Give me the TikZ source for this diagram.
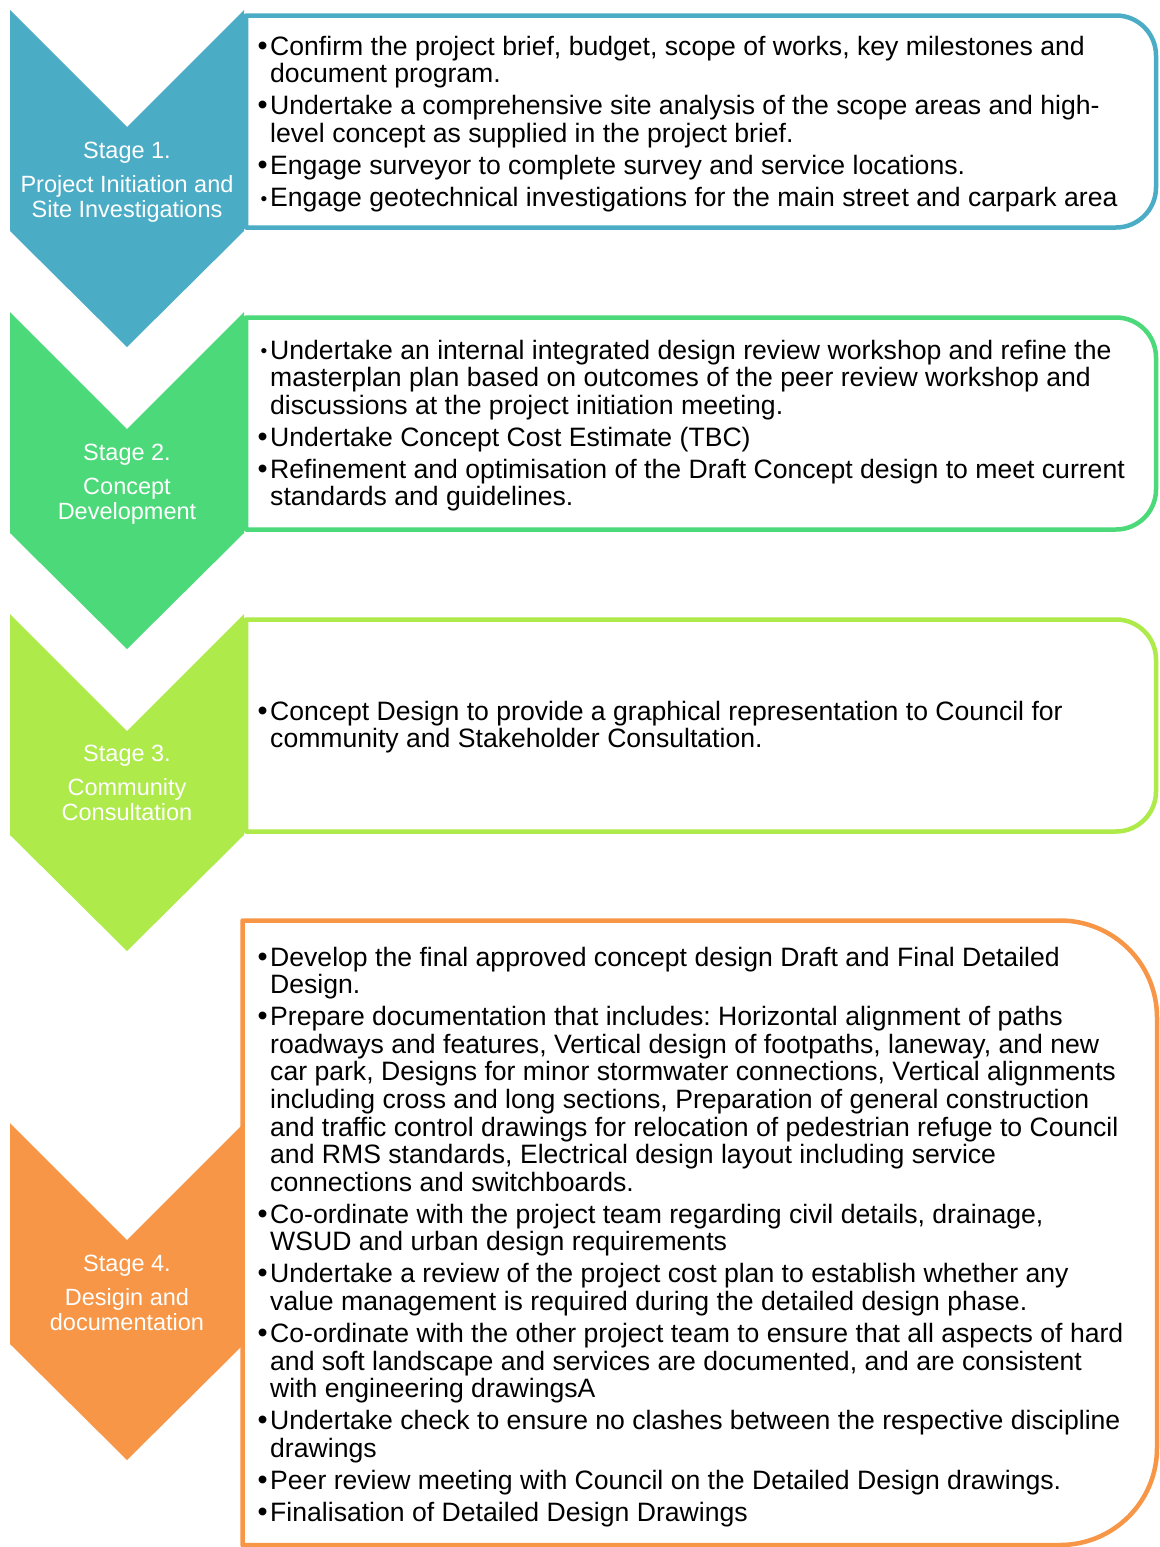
\documentclass[tikz,border=0pt]{standalone}
\usepackage{fontspec}
\setmainfont{Liberation Sans}
\usepackage{graphicx}
\frenchspacing

\definecolor{stageblue}{HTML}{4BACC6}
\definecolor{stagegreen}{HTML}{4CD97A}
\definecolor{stagelime}{HTML}{ADEA4A}
\definecolor{stageorange}{HTML}{F79646}

% bullet, small bullet and continuation indent for the task lists
\newcommand\bl{\makebox[12pt][l]{\hspace*{-0.5pt}\scalebox{1.08}{•}}}
\newcommand\smallbul{\makebox[12pt][l]{\hspace*{2.5pt}\raisebox{1.2pt}{\scalebox{0.72}{•}}}}
\newcommand\indline{\hspace*{12pt}}
\newcommand\itemgap{\\[4.4pt]}
\newcommand\taskfont{\fontsize{26.6}{27.6}\selectfont}

\begin{document}
\begin{tikzpicture}[x=1pt,y=-1pt,
  panel/.style={draw=#1,line width=4.5pt,fill=white,line join=round},
  chev/.style={fill=#1},
  stagelabel/.style={text=white,inner sep=0pt,anchor=base},
  tasklist/.style={inner sep=0pt,anchor=base west}]

\useasboundingbox (0,0) rectangle (1159,1547);

% task panels, rounded on the right side
\draw[panel=stageblue] (246,227.5) -- (246,15.5) -- (1116,15.5)
  .. controls (1138.1,15.5) and (1156,33.4) .. (1156,55.5) -- (1156,187.5)
  .. controls (1156,209.6) and (1138.1,227.5) .. (1116,227.5) -- cycle;
\draw[panel=stagegreen] (246,529.5) -- (246,317.5) -- (1116,317.5)
  .. controls (1138.1,317.5) and (1156,335.4) .. (1156,357.5) -- (1156,489.5)
  .. controls (1156,511.6) and (1138.1,529.5) .. (1116,529.5) -- cycle;
\draw[panel=stagelime] (246,831.5) -- (246,619.5) -- (1116,619.5)
  .. controls (1138.1,619.5) and (1156,637.4) .. (1156,659.5) -- (1156,791.5)
  .. controls (1156,813.6) and (1138.1,831.5) .. (1116,831.5) -- cycle;
\draw[panel=stageorange] (242.5,1545) -- (242.5,920.5) -- (1060,920.5)
  .. controls (1113.6,920.5) and (1157,963.9) .. (1157,1017.5) -- (1157,1448)
  .. controls (1157,1501.6) and (1113.6,1545) .. (1060,1545) -- cycle;

% stage chevrons
\fill[chev=stageblue] (10,10) -- (127,127) -- (244,10) -- (244,231) -- (127,347) -- (10,231) -- cycle;
\fill[chev=stagegreen] (10,312) -- (127,429) -- (244,312) -- (244,533) -- (127,649) -- (10,533) -- cycle;
\fill[chev=stagelime] (10,614) -- (127,731) -- (244,614) -- (244,835) -- (127,951) -- (10,835) -- cycle;
\fill[chev=stageorange] (10,1123) -- (127,1240) -- (244,1123) -- (244,1344) -- (127,1460) -- (10,1344) -- cycle;

% stage titles
\node[stagelabel] (s1) at (127,158) {\begin{minipage}[t]{234pt}\centering\fontsize{23.5}{25}\selectfont
  Stage 1.\\[9pt]Project Initiation and\\Site Investigations\end{minipage}};
\node[stagelabel] (s2) at (127,460) {\begin{minipage}[t]{234pt}\centering\fontsize{23.5}{25}\selectfont
  Stage 2.\\[9pt]Concept\\Development\end{minipage}};
\node[stagelabel] (s3) at (127,761) {\begin{minipage}[t]{234pt}\centering\fontsize{23.5}{25}\selectfont
  Stage 3.\\[9pt]Community\\Consultation\end{minipage}};
\node[stagelabel] (s4) at (127,1271) {\begin{minipage}[t]{234pt}\centering\fontsize{23.5}{25}\selectfont
  Stage 4.\\[9pt]Desigin and\\documentation\end{minipage}};

% task lists
\node[tasklist] (t1) at (258,55) {\begin{minipage}[t]{895pt}\taskfont
\bl Confirm the project brief, budget, scope of works, key milestones and\\
\indline document program.\itemgap
\bl Undertake a comprehensive site analysis of the scope areas and high-\\
\indline level concept as supplied in the project brief.\itemgap
\bl Engage surveyor to complete survey and service locations.\itemgap
\smallbul Engage geotechnical investigations for the main street and carpark area
\end{minipage}};

\node[tasklist] (t2) at (258,359) {\begin{minipage}[t]{895pt}\taskfont
\smallbul Undertake an internal integrated design review workshop and refine the\\
\indline masterplan plan based on outcomes of the peer review workshop and\\
\indline discussions at the project initiation meeting.\itemgap
\bl Undertake Concept Cost Estimate (TBC)\itemgap
\bl Refinement and optimisation of the Draft Concept design to meet current\\
\indline standards and guidelines.
\end{minipage}};

\node[tasklist] (t3) at (258,720) {\begin{minipage}[t]{895pt}\taskfont
\bl Concept Design to provide a graphical representation to Council for\\
\indline community and Stakeholder Consultation.
\end{minipage}};

\node[tasklist] (t4) at (258,966) {\begin{minipage}[t]{895pt}\taskfont
\bl Develop the final approved concept design Draft and Final Detailed\\
\indline Design.\itemgap
\bl Prepare documentation that includes: Horizontal alignment of paths\\
\indline roadways and features, Vertical design of footpaths, laneway, and new\\
\indline car park, Designs for minor stormwater connections, Vertical alignments\\
\indline including cross and long sections, Preparation of general construction\\
\indline and traffic control drawings for relocation of pedestrian refuge to Council\\
\indline and RMS standards, Electrical design layout including service\\
\indline connections and switchboards.\itemgap
\bl Co-ordinate with the project team regarding civil details, drainage,\\
\indline WSUD and urban design requirements\itemgap
\bl Undertake a review of the project cost plan to establish whether any\\
\indline value management is required during the detailed design phase.\itemgap
\bl Co-ordinate with the other project team to ensure that all aspects of hard\\
\indline and soft landscape and services are documented, and are consistent\\
\indline with engineering drawingsA\itemgap
\bl Undertake check to ensure no clashes between the respective discipline\\
\indline drawings\itemgap
\bl Peer review meeting with Council on the Detailed Design drawings.\itemgap
\bl Finalisation of Detailed Design Drawings
\end{minipage}};

\end{tikzpicture}
\end{document}
